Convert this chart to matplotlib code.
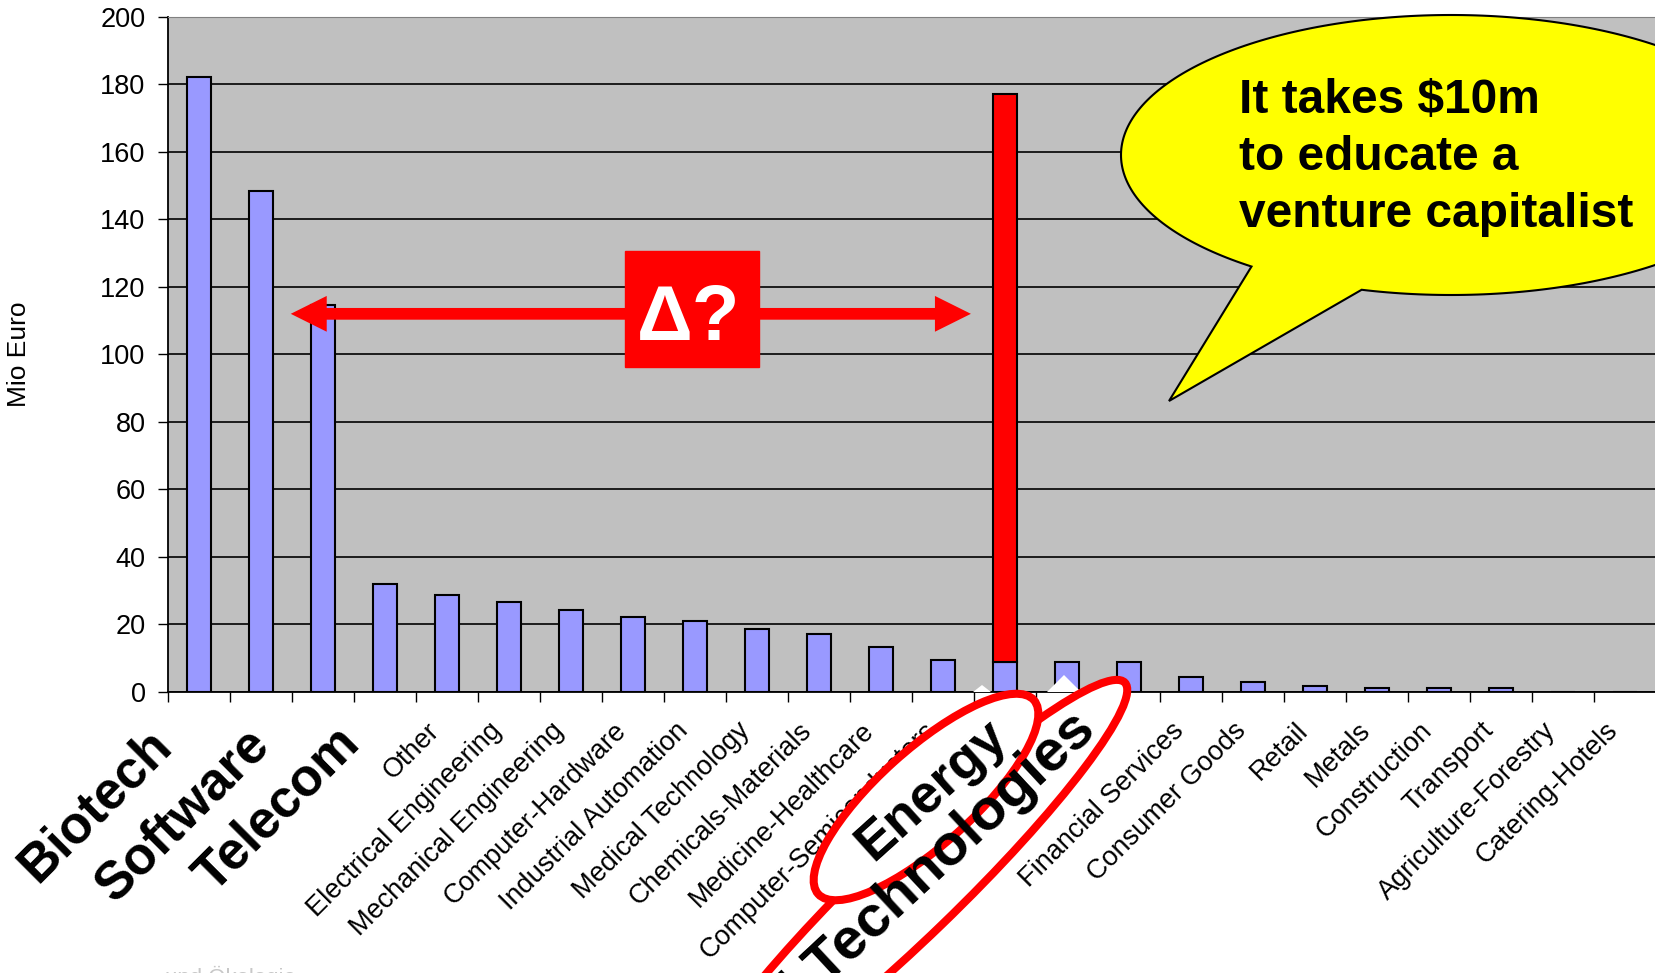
import numpy as np
import matplotlib
matplotlib.use('Agg')
import matplotlib.pyplot as plt
from matplotlib.patches import Ellipse, Polygon, Rectangle
from matplotlib.transforms import ScaledTranslation

plt.rcParams['font.family'] = ['Liberation Sans', 'DejaVu Sans']

# venture capital per sector (Mio Euro)
sectors = ['', '', '', '', 'Other', 'Electrical Engineering', 'Mechanical Engineering',
           'Computer-Hardware', 'Industrial Automation', 'Medical Technology',
           'Chemicals-Materials', 'Medicine-Healthcare', 'Computer-Semiconductors',
           '', '', '', 'Financial Services', 'Consumer Goods', 'Retail', 'Metals',
           'Construction', 'Transport', 'Agriculture-Forestry', 'Catering-Hotels']
invest = [182, 148.5, 114.5, 32, 28.8, 26.7, 24.4, 22.3, 21, 18.8, 17.2, 13.4,
          9.5, 9, 8.9, 8.9, 4.5, 3, 1.9, 1.2, 1.2, 1.2, 0, 0]
energy_idx = 13
energy_target = 177
gap_level = 112
yticks = np.arange(0, 201, 20)

W, H = 1656, 973
fig = plt.figure(figsize=(W / 100, H / 100), dpi=100)
ax = fig.add_axes([168 / W, 1 - 692 / H, 1488 / W, 675.3 / H])
ax.set_facecolor('#C0C0C0')

x = np.arange(len(invest))
ax.bar(x, invest, width=0.4, color='#9999FF', edgecolor='black', linewidth=1.5, zorder=3)
ax.bar(energy_idx, energy_target - invest[energy_idx], bottom=invest[energy_idx],
       width=0.4, color='red', edgecolor='black', linewidth=1.5, zorder=3)

ax.set_xlim(-0.5, len(invest) - 0.5)
ax.set_ylim(0, 200)
ax.set_yticks(yticks)
ax.yaxis.grid(True, color='black', linewidth=1.2)
ax.set_axisbelow(True)
ax.tick_params(axis='y', length=7.2, width=1, labelsize=19.5, pad=9)

ax.set_xticks(x)
ax.set_xticks(np.arange(-0.5, len(invest)), minor=True)
ax.set_xticklabels(sectors, rotation=45, ha='right', va='center',
                   rotation_mode='anchor', fontsize=19.5)
ax.tick_params(axis='x', which='major', length=0, pad=25)
ax.tick_params(axis='x', which='minor', length=7.2, width=1)
shift = ScaledTranslation(-11 / 100, 0, fig.dpi_scale_trans)
for lab in ax.get_xticklabels():
    lab.set_transform(lab.get_transform() + shift)

for side in ['left', 'bottom']:
    ax.spines[side].set_linewidth(1.3)
ax.spines['top'].set_color('#808080')
ax.spines['right'].set_visible(False)

ax.set_ylabel('Mio Euro', fontsize=19, va='center')
ax.yaxis.set_label_coords(-0.1001, 0.5)

# double arrow between telecom level and energy
mid = 7.95
for end in [1.48, 12.45]:
    ax.arrow(mid, gap_level, end - mid, 0, width=3.47, head_width=10.6, head_length=0.58,
             length_includes_head=True, color='red', linewidth=0, zorder=4)
ax.add_patch(Rectangle((6.87, 96.4), 2.16, 34.2, color='red', zorder=5))
ax.text(7.9, 104.3, 'Δ?', color='white', fontsize=56, fontweight='bold',
        ha='center', va='baseline', zorder=6)

# overlay in pixel coordinates for the callouts
ov = fig.add_axes([0, 0, 1, 1])
ov.set_xlim(0, W)
ov.set_ylim(H, 0)
ov.axis('off')

for txt, cx, cy in [('Biotech', 95, 806), ('Software', 183, 815), ('Telecom', 277, 810)]:
    ov.text(cx, cy, txt, fontsize=38, fontweight='bold', rotation=45,
            ha='center', va='center', rotation_mode='anchor')

# white corners of the label boxes poking above the axis
for px, tip, half in [(982, 685, 9), (1064, 675, 17)]:
    ov.add_patch(Polygon([[px - half, 692], [px, tip], [px + half, 692]],
                         closed=True, facecolor='white', edgecolor='none'))

ov.add_patch(Ellipse((909, 891), 600, 94, angle=-44, facecolor='white',
                     edgecolor='red', linewidth=5.8))
ov.text(1087, 722, 'Environmental Technologies', fontsize=42, fontweight='bold',
        rotation=43, ha='right', va='center', rotation_mode='anchor')
ov.add_patch(Ellipse((926, 797), 290, 95, angle=-42, facecolor='white',
                     edgecolor='red', linewidth=5.8))
ov.text(932, 790, 'Energy', fontsize=39, fontweight='bold', rotation=42,
        ha='center', va='center', rotation_mode='anchor')

# speech bubble
ecx, ecy, ea, eb = 1451, 155, 330, 140
t1, t2 = 2.22, 1.845
t = np.linspace(t1, t2 + 2 * np.pi, 300)
pts = np.column_stack([ecx + ea * np.cos(t), ecy + eb * np.sin(t)])
pts = np.vstack([pts, [[1169, 401]]])
ov.add_patch(Polygon(pts, closed=True, facecolor='#FFFF00', edgecolor='black', linewidth=1.5))
for i, line in enumerate(['It takes $10m', 'to educate a', 'venture capitalist']):
    ov.text(1239, 113 + 57 * i, line, fontsize=34.5, fontweight='bold',
            ha='left', va='baseline')

fig.text(165 / W, 1 - 966 / H, 'und Ökologie', fontsize=16, color='#c8c8c8', va='top')

fig.savefig('out.png', dpi=100)
